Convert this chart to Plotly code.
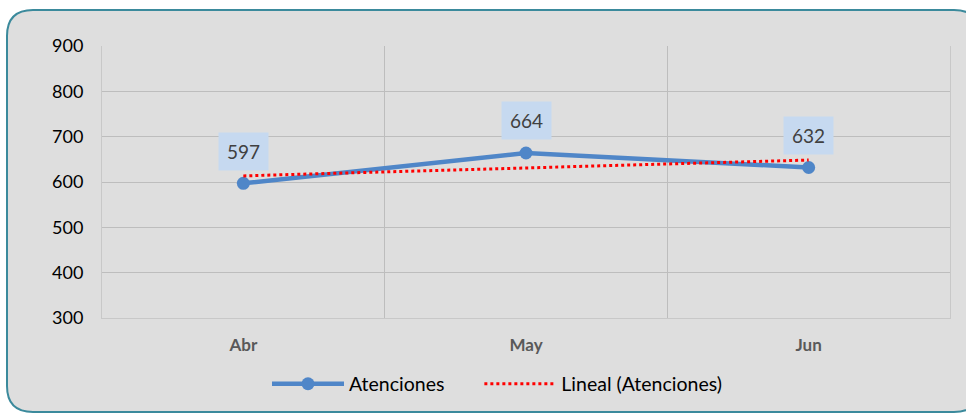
import numpy as np
import plotly.graph_objects as go

meses = ['Abr', 'May', 'Jun']
atenciones = [597, 664, 632]
y_ticks = [300, 400, 500, 600, 700, 800, 900]

# linear trendline like Excel's "Lineal"
idx = np.arange(len(atenciones))
pend, inter = np.polyfit(idx, atenciones, 1)
tendencia = pend * idx + inter

fnt = 'Lato'

fig = go.Figure()

fig.add_trace(go.Scatter(
    x=meses, y=atenciones, name='Atenciones' + '\u00a0' * 6, mode='lines+markers',
    line=dict(color='#4f86c8', width=4.5),
    marker=dict(color='#4f86c8', size=13),
))

fig.add_trace(go.Scatter(
    x=meses, y=tendencia, name='Lineal (Atenciones)', mode='lines',
    line=dict(color='#ff0000', width=3, dash='dot'),
))

# data labels
for m, v in zip(meses, atenciones):
    fig.add_annotation(
        x=m, y=v, text=str(v), showarrow=False, yshift=32,
        bgcolor='#c6d9f0', width=47, height=35,
        font=dict(family=fnt, size=19, color='#404040'),
    )

# rounded chart border
W, H = 848, 272
x0, x1 = (7 - 102) / W, (980 - 102) / W
y0, y1 = (318 - 412) / H, (318 - 10) / H
rx, ry = 26 / W, 26 / H
path = (f'M {x0+rx},{y1} L {x1-rx},{y1} Q {x1},{y1} {x1},{y1-ry} '
        f'L {x1},{y0+ry} Q {x1},{y0} {x1-rx},{y0} '
        f'L {x0+rx},{y0} Q {x0},{y0} {x0},{y0+ry} '
        f'L {x0},{y1-ry} Q {x0},{y1} {x0+rx},{y1} Z')
fig.add_shape(type='path', path=path, xref='paper', yref='paper',
              line=dict(color='#3b8a9c', width=2), fillcolor='#dedede',
              layer='below')

fig.update_layout(
    width=966, height=417,
    margin=dict(l=102, r=16, t=46, b=99),
    paper_bgcolor='white', plot_bgcolor='rgba(0,0,0,0)',
    font=dict(family=fnt, size=18, color='black'),
    showlegend=True,
    legend=dict(orientation='h', x=(267 - 102) / W, xanchor='left',
                y=-0.243, yanchor='middle', bgcolor='rgba(0,0,0,0)',
                itemwidth=72, tracegroupgap=0,
                font=dict(family=fnt, size=19.5, color='black')),
)

fig.update_xaxes(
    type='category', range=[-0.5, 2.5], tickson='boundaries', showgrid=True,
    gridcolor='#bdbdbd', gridwidth=1, ticks='', zeroline=False,
    tickfont=dict(family=fnt, size=17, color='#595959', weight='bold'),
    ticklabelstandoff=12,
    showline=True, linecolor='#c8c8c8',
)

fig.update_yaxes(
    range=[300, 900], tickvals=y_ticks, showgrid=True,
    gridcolor='#bdbdbd', gridwidth=1, zeroline=False, ticks='',
    tickfont=dict(family=fnt, size=18, color='black'),
    ticklabelstandoff=14,
    showline=True, mirror=True, linecolor='#c8c8c8',
)

fig.write_html('out.html', config={'displayModeBar': False},
               post_script="document.body.style.margin='0';document.body.style.overflow='hidden';")
